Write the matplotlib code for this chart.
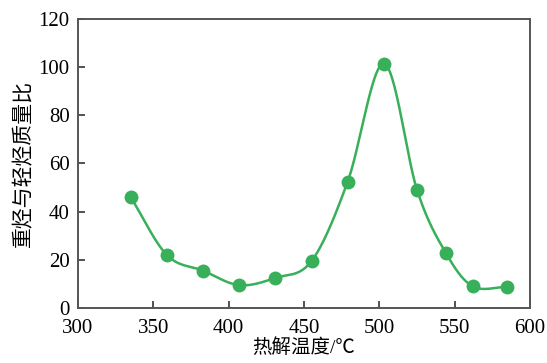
import numpy as np
import matplotlib
matplotlib.use("Agg")
import matplotlib.pyplot as plt

# pyrolysis temperature (C) and heavy/light hydrocarbon mass ratio
temperature = [335, 359, 383, 407, 431, 455, 479, 503, 525, 544, 562, 585]
mass_ratio = [46, 22, 15.5, 9.5, 12.5, 19.5, 52.5, 101.5, 49, 23, 9, 8.8]

x_ticks = [300, 350, 400, 450, 500, 550, 600]
y_ticks = [0, 20, 40, 60, 80, 100, 120]


def smooth_curve(x, y, n=30):
    # catmull-rom pass through the measured points, only for the drawn line
    x = np.asarray(x, float)
    y = np.asarray(y, float)
    px = np.concatenate([[2 * x[0] - x[1]], x, [2 * x[-1] - x[-2]]])
    py = np.concatenate([[2 * y[0] - y[1]], y, [2 * y[-1] - y[-2]]])
    xs, ys = [], []
    t = np.linspace(0, 1, n)
    for i in range(1, len(px) - 2):
        for p, out in ((px, xs), (py, ys)):
            p0, p1, p2, p3 = p[i - 1], p[i], p[i + 1], p[i + 2]
            out.append(0.5 * (2 * p1 + (-p0 + p2) * t
                              + (2 * p0 - 5 * p1 + 4 * p2 - p3) * t ** 2
                              + (-p0 + 3 * p1 - 3 * p2 + p3) * t ** 3))
    return np.concatenate(xs), np.concatenate(ys)


plt.rcParams["font.family"] = ["Liberation Serif", "Noto Sans CJK SC"]

fig = plt.figure(figsize=(5.47, 3.63), dpi=100)
ax = fig.add_axes([0.1426, 0.1515, 0.8264, 0.7962])

green = "#38b05a"
cx, cy = smooth_curve(temperature, mass_ratio)
ax.plot(cx, cy, color=green, lw=1.8)
ax.plot(temperature, mass_ratio, "o", color=green, ms=10, mec="none")

ax.set_xlim(300, 600)
ax.set_ylim(0, 120)
ax.set_xticks(x_ticks)
ax.set_yticks(y_ticks)
ax.tick_params(direction="in", length=5, width=1.2, color="#333333",
               labelsize=15, top=False, right=False)
ax.tick_params(axis="x", pad=8)
ax.tick_params(axis="y", pad=6)
for s in ax.spines.values():
    s.set_color("#555555")
    s.set_linewidth(1.4)

ax.set_xlabel("热解温度/℃", fontsize=14, labelpad=0)
ax.set_ylabel("重烃与轻烃质量比", fontsize=15, labelpad=3)

fig.savefig("out.png", dpi=100)
